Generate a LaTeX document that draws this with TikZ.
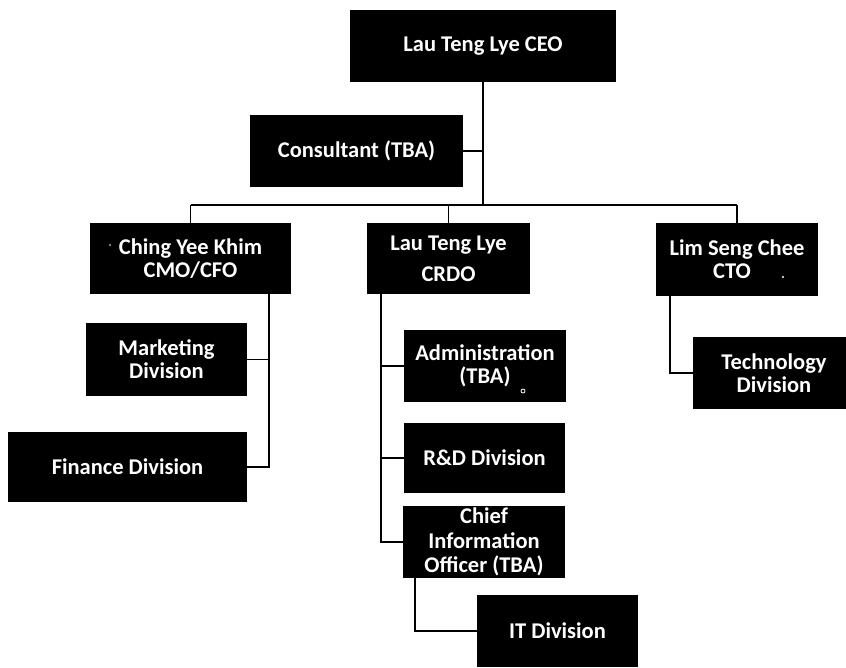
\documentclass[tikz,border=0pt]{standalone}
\usepackage{fontspec}
\setmainfont{Carlito}
\begin{document}
\begin{tikzpicture}[x=1pt,y=-1pt,
  box/.style={fill=black,draw=none,text=white,inner sep=0pt,align=center,
    font={\bfseries\fontsize{22.5}{23}\selectfont}},
  conn/.style={line width=1.5pt,draw=black}]
\useasboundingbox (0,0) rectangle (846,667);
\clip (0,0) rectangle (846,667);
\fill[white] (0,0) rectangle (846,667);
% boxes
\node[box,minimum width=266pt,minimum height=72pt] (ceo) at (483,46) {Lau Teng Lye CEO};
\node[box,minimum width=213pt,minimum height=72pt] (cons) at (356.5,151) {Consultant (TBA)};
\node[box,minimum width=201pt,minimum height=71pt] (ching) at (190.5,258.5) {Ching Yee Khim\\CMO/CFO};
\node[box,minimum width=163pt,minimum height=71pt] (crdo) at (448.5,258.5) {Lau Teng Lye\\[8pt]CRDO};
\node[box,minimum width=162pt,minimum height=73pt] (cto) at (737,259.5) {Lim Seng Chee\\CTO\hspace*{10pt}};
\node[box,minimum width=161pt,minimum height=73pt] (mkt) at (166.5,359.5) {Marketing\\Division};
\node[box,minimum width=239pt,minimum height=70pt] (fin) at (127.5,467) {Finance Division};
\node[box,minimum width=162pt,minimum height=72pt] (adm) at (485,366) {Administration\\(TBA)};
\node[box,minimum width=161pt,minimum height=70pt] (rd) at (484.5,458) {R\&D Division};
\node[box,minimum width=162pt,minimum height=72pt,font={\bfseries\fontsize{22.5}{24.5}\selectfont}] (cio) at (484,542) {Chief\\Information\\Officer (TBA)};
\node[box,minimum width=162pt,minimum height=72pt] (tech) at (774,373) {Technology\\Division};
\node[box,minimum width=161pt,minimum height=72pt] (it) at (557.5,631) {IT Division};
% scan marks
\fill[white] (783,277) circle (1.2pt);
\draw[white,line width=0.8pt] (523,391) circle (2pt);
\fill[white] (110,245) circle (0.8pt);
% connector points
\coordinate (bar) at (483,205);
\coordinate (barL) at (190.5,205);
\coordinate (barR) at (737,205);
\coordinate (barC) at (448.5,205);
\coordinate (cj) at (269,294);
\coordinate (cr) at (381,294);
\coordinate (ci) at (415,578);
\coordinate (ct) at (670,296);
% connectors
\draw[conn] (ceo.south) -- (bar);
\draw[conn] (cons.east) -- (cons.east -| bar);
\draw[conn] (barL) -- (barR);
\draw[conn] (barL) -- (ching.north);
\draw[conn] (barC) -- (crdo.north);
\draw[conn] (barR) -- (cto.north);
\draw[conn] (cj) |- (mkt.east);
\draw[conn] (cj) |- (fin.east);
\draw[conn] (cr) |- (adm.west);
\draw[conn] (cr) |- (rd.west);
\draw[conn] (cr) |- (cio.west);
\draw[conn] (ci) |- (it.west);
\draw[conn] (ct) |- (tech.west);
\end{tikzpicture}
\end{document}
